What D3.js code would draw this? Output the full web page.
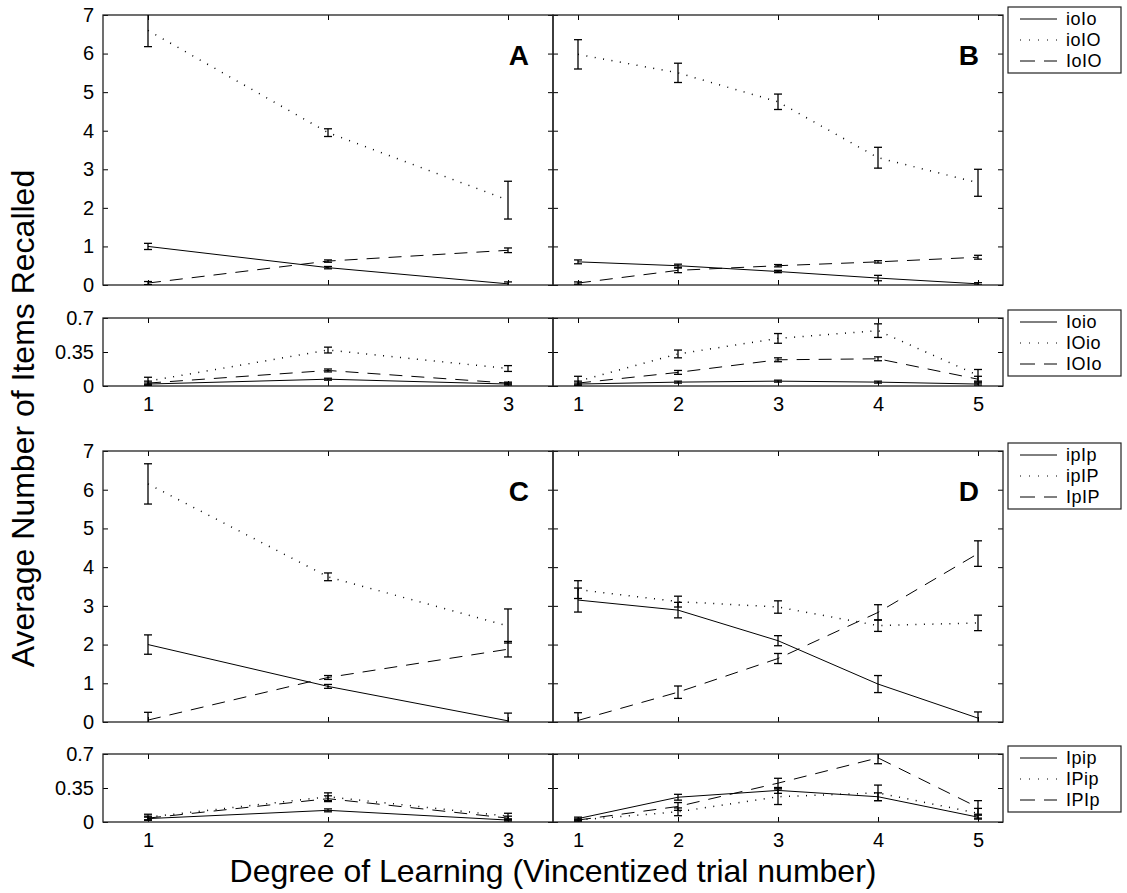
<!DOCTYPE html>
<html>
<head>
<meta charset="utf-8">
<script src="https://cdn.jsdelivr.net/npm/d3@7"></script>
<style>
  body { margin: 0; background: #fff; }
  svg { display: block; font-family: "Liberation Sans", Arial, Helvetica, sans-serif; }
  .tick text { fill: #000; }
  .tick line { stroke: #000; }
</style>
</head>
<body>
<svg id="chart"></svg>
<script>
// trial numbers
const trialsLeft = [1, 2, 3];
const trialsRight = [1, 2, 3, 4, 5];

// legend names (solid, dotted, dashed)
const namesTop = ['ioIo', 'ioIO', 'IoIO'];
const namesTopSub = ['Ioio', 'IOio', 'IOIo'];
const namesBottom = ['ipIp', 'ipIP', 'IpIP'];
const namesBottomSub = ['Ipip', 'IPip', 'IPIp'];

const mainTicks = [0, 1, 2, 3, 4, 5, 6, 7];
const subTicks = [0, 0.35, 0.7];

// panel A
const meanA = [[1.0, 0.45, 0.03], [6.6, 3.95, 2.2], [0.05, 0.62, 0.9]];
const errA = [[0.08, 0.03, 0.05], [0.42, 0.1, 0.49], [0.04, 0.03, 0.06]];
const meanASub = [[0.02, 0.07, 0.02], [0.05, 0.37, 0.18], [0.03, 0.16, 0.03]];
const errASub = [[0.01, 0.01, 0.01], [0.04, 0.03, 0.03], [0.02, 0.015, 0.01]];

// panel B
const meanB = [[0.6, 0.5, 0.35, 0.18, 0.03], [5.98, 5.5, 4.75, 3.3, 2.65], [0.05, 0.38, 0.5, 0.6, 0.72]];
const errB = [[0.05, 0.04, 0.03, 0.07, 0.03], [0.38, 0.25, 0.2, 0.27, 0.35], [0.03, 0.06, 0.03, 0.03, 0.05]];
const meanBSub = [[0.02, 0.04, 0.05, 0.04, 0.02], [0.05, 0.33, 0.49, 0.57, 0.11], [0.03, 0.14, 0.27, 0.28, 0.07]];
const errBSub = [[0.01, 0.01, 0.01, 0.01, 0.01], [0.05, 0.04, 0.05, 0.07, 0.06], [0.02, 0.02, 0.02, 0.02, 0.03]];

// panel C
const meanC = [[2.0, 0.92, 0.03], [6.15, 3.75, 2.48], [0.05, 1.15, 1.88]];
const errC = [[0.25, 0.05, 0.2], [0.52, 0.1, 0.44], [0.2, 0.05, 0.2]];
const meanCSub = [[0.035, 0.12, 0.02], [0.05, 0.26, 0.06], [0.04, 0.24, 0.04]];
const errCSub = [[0.015, 0.015, 0.01], [0.03, 0.04, 0.03], [0.02, 0.03, 0.02]];

// panel D
const meanD = [[3.15, 2.89, 2.1, 0.98, 0.1], [3.42, 3.11, 2.97, 2.49, 2.56], [0.04, 0.77, 1.64, 2.83, 4.35]];
const errD = [[0.31, 0.2, 0.13, 0.22, 0.16], [0.23, 0.14, 0.16, 0.15, 0.2], [0.2, 0.16, 0.13, 0.2, 0.33]];
const meanDSub = [[0.035, 0.255, 0.325, 0.26, 0.05], [0.02, 0.105, 0.26, 0.3, 0.09], [0.02, 0.16, 0.4, 0.66, 0.15]];
const errDSub = [[0.015, 0.03, 0.03, 0.04, 0.02], [0.01, 0.04, 0.08, 0.08, 0.05], [0.01, 0.04, 0.05, 0.06, 0.07]];

const W = 1127, H = 893;
const dashes = [null, '1,7.5', '13,9'];

const svg = d3.select('#chart').attr('width', W).attr('height', H);

const xLeft = d3.scaleLinear().domain([0.75, 3.25]).range([103, 553]);
const xRight = d3.scaleLinear().domain([0.75, 5.25]).range([553, 1003]);

// rows: top main, top sub, bottom main, bottom sub
const rows = [
  { y: d3.scaleLinear().domain([0, 7]).range([285, 15]), ticks: mainTicks, xlabels: false },
  { y: d3.scaleLinear().domain([0, 0.7]).range([386, 318]), ticks: subTicks, xlabels: true },
  { y: d3.scaleLinear().domain([0, 7]).range([722, 451]), ticks: mainTicks, xlabels: false },
  { y: d3.scaleLinear().domain([0, 0.7]).range([822, 754]), ticks: subTicks, xlabels: true }
];

const panels = [
  { row: 0, x: xLeft, trials: trialsLeft, mean: meanA, err: errA, label: 'A', left: true },
  { row: 0, x: xRight, trials: trialsRight, mean: meanB, err: errB, label: 'B', legend: namesTop },
  { row: 1, x: xLeft, trials: trialsLeft, mean: meanASub, err: errASub, left: true },
  { row: 1, x: xRight, trials: trialsRight, mean: meanBSub, err: errBSub, legend: namesTopSub },
  { row: 2, x: xLeft, trials: trialsLeft, mean: meanC, err: errC, label: 'C', left: true },
  { row: 2, x: xRight, trials: trialsRight, mean: meanD, err: errD, label: 'D', legend: namesBottom },
  { row: 3, x: xLeft, trials: trialsLeft, mean: meanCSub, err: errCSub, left: true },
  { row: 3, x: xRight, trials: trialsRight, mean: meanDSub, err: errDSub, legend: namesBottomSub }
];

panels.forEach((p, i) => {
  const r = rows[p.row];
  const x = p.x, y = r.y;
  const [x0, x1] = x.range();
  const [y0, y1] = y.range(); // y0 bottom, y1 top

  const clipId = 'clip' + i;
  svg.append('clipPath').attr('id', clipId)
    .append('rect').attr('x', x0).attr('y', y1).attr('width', x1 - x0).attr('height', y0 - y1);

  const g = svg.append('g');

  // inward ticks on all four sides
  const noLabel = () => '';
  g.append('g').attr('transform', `translate(${x0},0)`)
    .call(d3.axisLeft(y).tickValues(r.ticks).tickSize(-5).tickPadding(9)
      .tickFormat(p.left ? d3.format('') : noLabel));
  g.append('g').attr('transform', `translate(${x1},0)`)
    .call(d3.axisRight(y).tickValues(r.ticks).tickSize(-5).tickFormat(noLabel));
  g.append('g').attr('transform', `translate(0,${y1})`)
    .call(d3.axisTop(x).tickValues(p.trials).tickSize(-5).tickFormat(noLabel));
  g.append('g').attr('transform', `translate(0,${y0})`)
    .call(d3.axisBottom(x).tickValues(p.trials).tickSize(-5).tickPadding(11)
      .tickFormat(r.xlabels ? d3.format('d') : noLabel));
  g.selectAll('.domain').remove();
  g.selectAll('.tick text').style('font-size', '20px');

  // frame
  g.append('rect').attr('x', x0).attr('y', y1).attr('width', x1 - x0).attr('height', y0 - y1)
    .attr('fill', 'none').attr('stroke', '#222').attr('stroke-width', 1.3);

  const plot = g.append('g').attr('clip-path', `url(#${clipId})`);
  const line = d3.line().x(d => x(d.t)).y(d => y(d.m));

  p.mean.forEach((vals, s) => {
    const pts = vals.map((m, k) => ({ t: p.trials[k], m: m, e: p.err[s][k] }));
    plot.append('path').datum(pts)
      .attr('d', line)
      .attr('fill', 'none')
      .attr('stroke', '#000')
      .attr('stroke-width', s === 1 ? 1.5 : 1)
      .attr('stroke-dasharray', dashes[s]);

    // error bars
    const eb = plot.selectAll(null).data(pts).join('g');
    eb.append('line')
      .attr('x1', d => x(d.t)).attr('x2', d => x(d.t))
      .attr('y1', d => y(d.m - d.e)).attr('y2', d => y(d.m + d.e));
    eb.append('line')
      .attr('x1', d => x(d.t) - 4).attr('x2', d => x(d.t) + 4)
      .attr('y1', d => y(d.m - d.e)).attr('y2', d => y(d.m - d.e));
    eb.append('line')
      .attr('x1', d => x(d.t) - 4).attr('x2', d => x(d.t) + 4)
      .attr('y1', d => y(d.m + d.e)).attr('y2', d => y(d.m + d.e));
    eb.selectAll('line').attr('stroke', '#000').attr('stroke-width', 1.3);
  });

  if (p.label) {
    g.append('text')
      .attr('x', x1 - 24).attr('y', y1 + 50)
      .attr('text-anchor', 'end')
      .style('font-size', '28px').style('font-weight', 'bold')
      .text(p.label);
  }

  if (p.legend) {
    const lx = 1008, ly = y1 - 8;
    const lg = svg.append('g').attr('transform', `translate(${lx},${ly})`);
    lg.append('rect').attr('x', 0).attr('y', 0).attr('width', 113).attr('height', 66)
      .attr('fill', '#fff').attr('stroke', '#222').attr('stroke-width', 1.2);
    p.legend.forEach((name, s) => {
      const yy = 12 + s * 21;
      lg.append('line').attr('x1', 12).attr('x2', 49).attr('y1', yy).attr('y2', yy)
        .attr('stroke', '#000').attr('stroke-width', 1)
        .attr('stroke-dasharray', s === 0 ? null : (s === 1 ? '1,8' : '15,9'));
      lg.append('text').attr('x', 58).attr('y', yy).attr('dy', '0.36em')
        .style('font-size', '18px').style('letter-spacing', '0.5px').text(name);
    });
  }
});

// axis titles
svg.append('text')
  .attr('transform', `translate(34,${(15 + 822) / 2}) rotate(-90)`)
  .attr('text-anchor', 'middle')
  .style('font-size', '32px')
  .text('Average Number of Items Recalled');

svg.append('text')
  .attr('x', 553).attr('y', 882)
  .attr('text-anchor', 'middle')
  .style('font-size', '32px')
  .text('Degree of Learning (Vincentized trial number)');
</script>
</body>
</html>
